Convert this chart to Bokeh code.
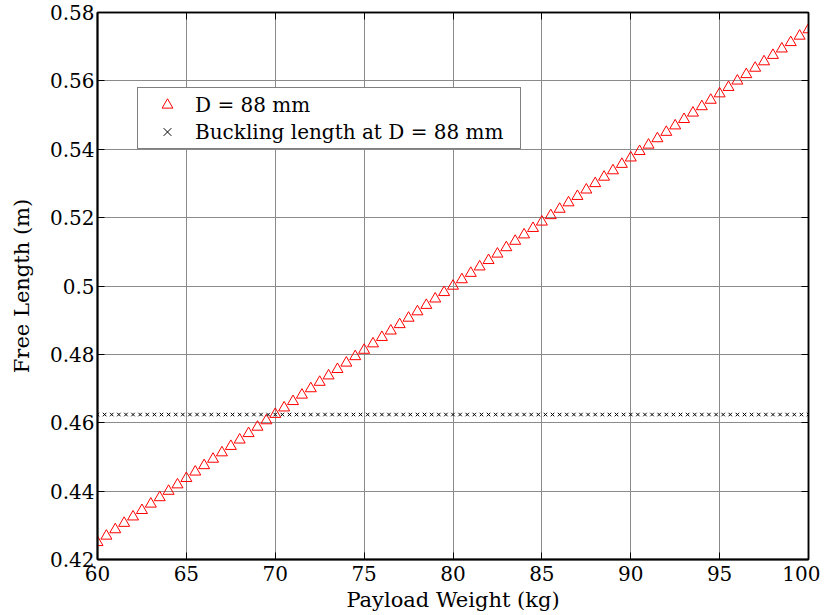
from bokeh.plotting import figure
from bokeh.models import FixedTicker, LinearAxis, Legend, LegendItem, Range1d
from bokeh.embed import file_html
from bokeh.resources import INLINE

# ---- data ----
payload_kg = [
    60.0, 60.5, 61.0, 61.5, 62.0, 62.5, 63.0, 63.5, 64.0, 64.5,
    65.0, 65.5, 66.0, 66.5, 67.0, 67.5, 68.0, 68.5, 69.0, 69.5,
    70.0, 70.5, 71.0, 71.5, 72.0, 72.5, 73.0, 73.5, 74.0, 74.5,
    75.0, 75.5, 76.0, 76.5, 77.0, 77.5, 78.0, 78.5, 79.0, 79.5,
    80.0, 80.5, 81.0, 81.5, 82.0, 82.5, 83.0, 83.5, 84.0, 84.5,
    85.0, 85.5, 86.0, 86.5, 87.0, 87.5, 88.0, 88.5, 89.0, 89.5,
    90.0, 90.5, 91.0, 91.5, 92.0, 92.5, 93.0, 93.5, 94.0, 94.5,
    95.0, 95.5, 96.0, 96.5, 97.0, 97.5, 98.0, 98.5, 99.0, 99.5,
    100.0,
]
free_length_m = [
    0.425, 0.42688, 0.42875, 0.43063, 0.4325, 0.43438, 0.43625, 0.43813, 0.44, 0.44188,
    0.44375, 0.44563, 0.4475, 0.44938, 0.45125, 0.45313, 0.455, 0.45688, 0.45875, 0.46063,
    0.4625, 0.46438, 0.46625, 0.46813, 0.47, 0.47188, 0.47375, 0.47563, 0.4775, 0.47938,
    0.48125, 0.48313, 0.485, 0.48688, 0.48875, 0.49063, 0.4925, 0.49438, 0.49625, 0.49813,
    0.5, 0.50188, 0.50375, 0.50563, 0.5075, 0.50938, 0.51125, 0.51313, 0.515, 0.51688,
    0.51875, 0.52063, 0.5225, 0.52438, 0.52625, 0.52813, 0.53, 0.53188, 0.53375, 0.53563,
    0.5375, 0.53938, 0.54125, 0.54313, 0.545, 0.54688, 0.54875, 0.55063, 0.5525, 0.55438,
    0.55625, 0.55813, 0.56, 0.56188, 0.56375, 0.56563, 0.5675, 0.56938, 0.57125, 0.57313,
    0.575,
]
buckling_x = [
    60.0, 60.4, 60.8, 61.2, 61.6, 62.0, 62.4, 62.8, 63.2, 63.6,
    64.0, 64.4, 64.8, 65.2, 65.6, 66.0, 66.4, 66.8, 67.2, 67.6,
    68.0, 68.4, 68.8, 69.2, 69.6, 70.0, 70.4, 70.8, 71.2, 71.6,
    72.0, 72.4, 72.8, 73.2, 73.6, 74.0, 74.4, 74.8, 75.2, 75.6,
    76.0, 76.4, 76.8, 77.2, 77.6, 78.0, 78.4, 78.8, 79.2, 79.6,
    80.0, 80.4, 80.8, 81.2, 81.6, 82.0, 82.4, 82.8, 83.2, 83.6,
    84.0, 84.4, 84.8, 85.2, 85.6, 86.0, 86.4, 86.8, 87.2, 87.6,
    88.0, 88.4, 88.8, 89.2, 89.6, 90.0, 90.4, 90.8, 91.2, 91.6,
    92.0, 92.4, 92.8, 93.2, 93.6, 94.0, 94.4, 94.8, 95.2, 95.6,
    96.0, 96.4, 96.8, 97.2, 97.6, 98.0, 98.4, 98.8, 99.2, 99.6,
    100.0,
]
buckling_length_m = [0.4624] * len(buckling_x)

x_ticks = [60, 65, 70, 75, 80, 85, 90, 95, 100]
x_tick_labels = ["60", "65", "70", "75", "80", "85", "90", "95", "100"]
y_ticks = [0.42, 0.44, 0.46, 0.48, 0.5, 0.52, 0.54, 0.56, 0.58]
y_tick_labels = ["0.42", "0.44", "0.46", "0.48", "0.5", "0.52", "0.54", "0.56", "0.58"]

series_names = ["D = 88 mm", "Buckling length at D = 88 mm"]

FONT = "DejaVu Serif"

p = figure(width=820, height=614, output_backend="svg", toolbar_location=None,
           x_range=Range1d(60, 100), y_range=Range1d(0.42, 0.58),
           min_border_left=97, min_border_right=12, min_border_top=12, min_border_bottom=54)

p.outline_line_color = "black"
p.outline_line_width = 1.5

r_tri = p.scatter(payload_kg, free_length_m, marker="triangle", size=11,
                  line_color="#ff0000", fill_color=None, line_width=1)
r_x = p.scatter(buckling_x, buckling_length_m, marker="x", size=5,
                line_color="black", line_width=1)

for ax in p.xaxis:
    ax.ticker = FixedTicker(ticks=x_ticks)
    ax.major_label_overrides = dict(zip(x_ticks, x_tick_labels))
    ax.axis_label = "Payload Weight (kg)"
for ax in p.yaxis:
    ax.ticker = FixedTicker(ticks=y_ticks)
    ax.major_label_overrides = dict(zip(y_ticks, y_tick_labels))
    ax.axis_label = "Free Length (m)"

for ax in list(p.xaxis) + list(p.yaxis):
    ax.axis_line_color = "black"
    ax.axis_line_width = 2
    ax.major_tick_in = 7
    ax.major_tick_out = 0
    ax.minor_tick_in = 0
    ax.minor_tick_out = 0
    ax.major_tick_line_color = "black"
    ax.major_label_text_font = FONT
    ax.major_label_text_font_size = "20px"
    ax.major_label_text_color = "black"
    ax.axis_label_text_font = FONT
    ax.axis_label_text_font_size = "21px"
    ax.axis_label_text_font_style = "normal"
    ax.axis_label_text_color = "black"

for ax in p.xaxis:
    ax.major_label_standoff = 6
    ax.axis_label_standoff = 4
for ax in p.yaxis:
    ax.major_label_standoff = 3
    ax.axis_label_standoff = 13

# top / right tick marks (no labels)
top = LinearAxis(ticker=FixedTicker(ticks=x_ticks), major_label_text_font_size="1px",
                 major_label_text_color=None,
                 major_tick_in=7, major_tick_out=0, minor_tick_in=0, minor_tick_out=0,
                 axis_line_color="black", axis_line_width=1.5, major_label_standoff=0)
right = LinearAxis(ticker=FixedTicker(ticks=y_ticks), major_label_text_font_size="1px",
                   major_label_text_color=None,
                   major_tick_in=7, major_tick_out=0, minor_tick_in=0, minor_tick_out=0,
                   axis_line_color="black", axis_line_width=1.5, major_label_standoff=0)
p.add_layout(top, "above")
p.add_layout(right, "right")

p.xgrid.grid_line_color = "#8a8a8a"
p.ygrid.grid_line_color = "#8a8a8a"
p.xgrid.grid_line_width = 1
p.ygrid.grid_line_width = 1

legend = Legend(items=[LegendItem(label=series_names[0], renderers=[r_tri]),
                       LegendItem(label=series_names[1], renderers=[r_x])],
                location=(40, 410))
legend.border_line_color = "black"
legend.border_line_width = 1.5
legend.background_fill_color = "white"
legend.background_fill_alpha = 1
legend.label_text_font = FONT
legend.label_text_font_size = "20px"
legend.label_text_color = "black"
legend.padding = 3
legend.spacing = 0
legend.margin = 0
legend.glyph_width = 52
legend.label_standoff = 2
legend.label_width = 322
legend.label_height = 27
legend.glyph_height = 27
p.add_layout(legend, "center")

open("out.html", "w").write(file_html(p, INLINE))
